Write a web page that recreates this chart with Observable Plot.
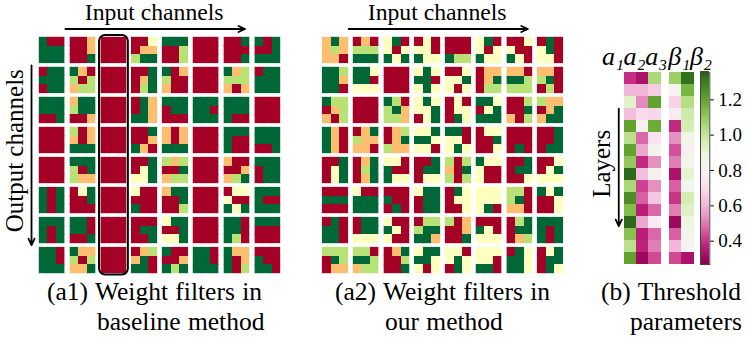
<!DOCTYPE html>
<html>
<head>
<meta charset="utf-8">
<script src="https://cdn.jsdelivr.net/npm/d3@7"></script>
<script src="https://cdn.jsdelivr.net/npm/@observablehq/plot@0.6"></script>
<style>
  html, body { margin: 0; padding: 0; background: #fff; }
  #page { display: flex; width: 747px; height: 339px; overflow: hidden; font-family: "Liberation Serif", serif; color: #000; }
  .col { position: relative; flex: none; }
  .cap { font-size: 25.5px; line-height: 30px; white-space: nowrap; word-spacing: 1px; }
  .cap div { position: relative; }
  svg { display: block; }
</style>
</head>
<body>
<div id="page">
  <div class="col" style="width:300px"><div id="p1"></div><div class="cap"><div style="left:47px">(a1) Weight filters in</div><div style="left:97px">baseline method</div></div></div>
  <div class="col" style="width:280px"><div id="p2"></div><div class="cap"><div style="left:35px">(a2) Weight filters in</div><div style="left:85px">our method</div></div></div>
  <div class="col" style="width:167px"><div id="p3"></div><div id="p4" style="position:absolute;left:120px;top:60px"></div><div class="cap"><div style="left:21px">(b) Threshold</div><div style="left:50px">parameters</div></div></div>
</div>
<script>
// Filter tiles: each string is a 3x3 tile read row by row.
// R red, O orange, Y pale yellow, L lime, G green.
const baselineFilters = [
  ["GRRGGGGGG","RRORRORRG","RRRRRRRRR","RRYROOLGG","GGGRRLRRL","RRRRRRRRR","RRGRRRRRG","GRGRRGGGG"],
  ["RGGGGGRGG","GORLRLOLL","RRRRRRRRR","RRGROGRLG","GROLRRORR","RRRRRRRRR","GOLLLLORO","RGGGGGGGG"],
  ["GGGGGGRRG","OGGLGGRRO","RRRRRRRRR","RGORGOGGO","GGGRGGRRR","GGGGGRGGG","GGGGGGGRR","RRRRRRRRR"],
  ["RRRRRRRRR","LROOROGGG","RRRRRRRRR","RRGRROGOR","OROOROGGG","RRRRRRRRR","GGGGRRGRR","GGGGGGRRG"],
  ["RRRRRRRRR","GGGLRGLOO","RRRRRRRRR","RRGRYGYYG","LOLRRGOLL","RRRRRRRRR","ORRRROOLG","GGGRGGRGG"],
  ["GRGGRGGRG","RYGRRGRRR","RRRRRRRRR","YRRRRRGRR","OGGRRGRRL","RRRRRRRRR","RYYYRRGYG","GGGGRRGGG"],
  ["GGGGRGGRG","GGRGGRRRG","RRRRRRRRR","RRRRGGRRG","YGGRRGYYG","RRRRRRRRR","GGRGGRGLR","GGGRRRRRR"],
  ["GGRGGRGGG","GOOLRLOOG","RRRRRRRRR","ROLOGRGGR","GRRRROGLG","GGRGGRGGG","GOOGROGRL","RRRGRRGGR"]
];
const ourFilters = [
  ["OGOOLOOOR","RORLLLGGG","YGRYRYGYG","RYRYYRGYY","RRRRRRGLL","YGRYRYGYY","RRYYRRGYR","RGRYGRYYR"],
  ["GGLGGOGGR","GGYGGRYYY","RRRRRRRRR","YGYGGRYGY","RRYYYGYRY","ROOROGRLL","OORGGLLLL","OORLGRRLR"],
  ["GLLROLORL","RRRRRRRRR","GLRLGOLLO","YGYYYGRYG","RYRRYYRGY","GGYRYGGGG","RRLRRGORL","LOOROGOGG"],
  ["GORGORGOR","ROGLOOOOR","ROLROGLOO","YYGGGYYYR","GGRYYRYGY","RYYRRGRRY","RRRRRRRGR","RRGRRGRGG"],
  ["RRGRYGRYG","ROGRLGROG","YYRGRRGYY","RRGRGGRYY","LRLORGLRL","GYYYRRYRR","RRGRGGRRY","RRYRYGYYY"],
  ["RRRGGGRRR","YRRGGGGGG","RRRGRRRGR","YGGRGGRGG","RGYRYYRRY","YYYYYYYGR","LLRLGROOR","GYGRRYRRY"],
  ["RGRGGRGGR","RGGRGGYYY","YRRGYRYRR","RLLLGGGGO","LRORRORRG","RRRGYRYYY","RLGRGGROL","GGGGRGGRG"],
  ["LLLRGLROO","LLRGGLOLL","ROGRRLRRG","YGGGGYYRY","YYRYGYRGY","YYYYYRGGR","RGYGGYGGY","RYGRGGRGY"]
];
const filterCodes = ["R","O","Y","L","G"];
const filterColors = ["#a50026","#fdbf6f","#ffffbf","#b9e276","#006837"];

// Threshold parameters, one value per layer.
const a1Values = [0.39,0.60,0.92,0.62,1.20,1.02,1.20,1.10,1.34,1.05,1.25,1.13,1.34,1.12,1.02,1.20];
const a2Values = [0.33,0.60,0.52,0.70,0.78,0.47,0.57,0.38,0.62,0.42,0.46,0.36,0.57,0.36,0.37,0.30];
const a3Values = [1.05,0.65,1.20,0.68,1.18,0.72,0.82,0.53,0.80,0.53,0.64,0.47,0.76,0.47,0.50,0.43];
const b1Values = [1.08,0.80,0.67,0.76,0.38,0.53,0.44,0.50,0.33,0.46,0.40,0.50,0.30,0.46,0.60,0.43];
const b2Values = [1.32,1.15,1.03,0.97,0.96,0.85,0.78,0.84,0.90,0.82,0.96,0.93,0.86,0.84,0.80,0.33];
const paramLabels = ["a₁","a₂","a₃","β₁","β₂"];
const colorbarTicks = [0.4,0.6,0.8,1.0,1.2];

const serif = "Liberation Serif";
const tilePitchX = 3.625, tilePitchY = 3.5;

function tileCells(rows) {
  const out = [];
  rows.forEach((row, r) => row.forEach((tile, c) => {
    [...tile].forEach((code, i) => {
      const cx = i % 3, cy = Math.floor(i / 3);
      out.push({
        x1: c * tilePitchX + cx, x2: c * tilePitchX + cx + 1,
        y1: r * tilePitchY + cy, y2: r * tilePitchY + cy + 1,
        code
      });
    });
  }));
  return out;
}

const arrowStyle = {stroke: "#000", strokeWidth: 1.8, headLength: 6, headAngle: 50, bend: 0};

function filterPanel(rows, width, left, right, extra = []) {
  const cells = tileCells(rows);
  return Plot.plot({
    width,
    height: 277,
    style: {background: "transparent"},
    x: {axis: null, domain: [0, 7 * tilePitchX + 3], range: [left, right]},
    y: {axis: null, domain: [0, 7 * tilePitchY + 3], range: [37, 273]},
    color: {type: "ordinal", domain: filterCodes, range: filterColors},
    marks: [
      Plot.rect(cells, {x1: "x1", x2: "x2", y1: "y1", y2: "y2", fill: "none", stroke: "code", strokeWidth: 1, strokeOpacity: 0.4}),
      Plot.rect(cells, {x1: "x1", x2: "x2", y1: "y1", y2: "y2", fill: "code", shapeRendering: "crispEdges"}),
      Plot.text(["Input channels"], {x: 13.5, y: -2.0, text: d => d, fontFamily: serif, fontSize: 23.7, lineAnchor: "bottom", fill: "#000"}),
      Plot.arrow([0], {x1: 3.05, x2: 24.2, y1: -0.99, y2: -0.99, ...arrowStyle}),
      ...extra
    ]
  });
}

document.getElementById("p1").append(filterPanel(baselineFilters, 300, 39, 280, [
  Plot.rect([0], {x1: 2 * tilePitchX - 0.18, x2: 2 * tilePitchX + 3.21, y1: -0.23, y2: 27.67, fill: "none", stroke: "#000", strokeWidth: 2, rx: 6}),
  Plot.arrow([0], {x1: -0.94, x2: -0.94, y1: 3.26, y2: 24.2, ...arrowStyle}),
  Plot.text(["Output channels"], {x: -2.9, y: 13.2, text: d => d, rotate: -90, fontFamily: serif, fontSize: 25, fill: "#000"})
]));
document.getElementById("p2").append(filterPanel(ourFilters, 280, 22.3, 262.7));

// Threshold heat map
const paramColumns = [[0, a1Values], [1, a2Values], [2, a3Values], [3.72, b1Values], [4.72, b2Values]];
const heatCells = paramColumns.flatMap(([x, vals]) => vals.map((v, i) => ({x1: x, x2: x + 1, y1: i, y2: i + 1, v})));
const labelPositions = [-0.98, 0.81, 2.6, 4.5, 6.3];
const paramColor = {type: "linear", scheme: "PiYG", domain: [0.268, 1.353]};

document.getElementById("p3").append(Plot.plot({
  width: 167, height: 277,
  style: {background: "transparent"},
  x: {axis: null, domain: [0, 5.72], range: [44.3, 113.5]},
  y: {axis: null, domain: [0, 16], range: [72.3, 264]},
  color: paramColor,
  marks: [
    Plot.rect(heatCells, {x1: "x1", x2: "x2", y1: "y1", y2: "y2", fill: "v", shapeRendering: "crispEdges"}),
    Plot.text(paramLabels, {x: (d, i) => labelPositions[i], y: -1.05, text: d => d, fontFamily: serif, fontStyle: "italic", fontSize: 26, lineAnchor: "bottom", dy: 5, fill: "#000"}),
    Plot.arrow([0], {x1: -0.5, x2: -0.5, y1: 3, y2: 12.8, ...arrowStyle}),
    Plot.text(["Layers"], {x: -1.85, y: 7.6, text: d => d, rotate: -90, fontFamily: serif, fontSize: 25, fill: "#000"})
  ]
}));

// Colour bar
const barMin = paramColor.domain[0], barMax = paramColor.domain[1];
const barSteps = d3.range(barMin, barMax, 0.005);
document.getElementById("p4").append(Plot.plot({
  width: 47, height: 212,
  marginLeft: 0, marginRight: 37.7, marginTop: 12.3, marginBottom: 8,
  style: {background: "transparent", overflow: "visible"},
  x: {axis: null, domain: [0, 1]},
  y: {axis: null, domain: [barMin, barMax]},
  color: paramColor,
  marks: [
    Plot.rect(barSteps, {x1: 0, x2: 1, y1: d => d, y2: d => d + 0.01, fill: d => d, shapeRendering: "crispEdges"}),
    Plot.frame({stroke: "#444", strokeWidth: 1}),
    Plot.axisY({anchor: "right", ticks: colorbarTicks, tickFormat: ".1f", tickSize: 3.5, tickPadding: 5, fontSize: 19, fontFamily: serif, label: null, stroke: "#000", color: "#000"})
  ]
}));
</script>
</body>
</html>
